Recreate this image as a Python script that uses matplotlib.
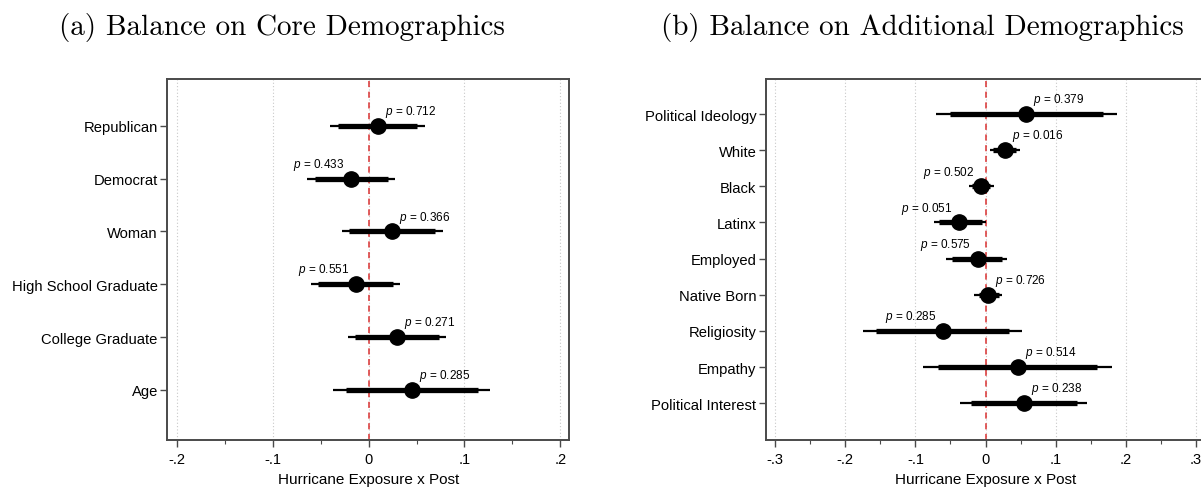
import matplotlib
matplotlib.use("Agg")
import matplotlib.pyplot as plt
from matplotlib.ticker import MultipleLocator

# panel (a): core demographics
core_labels = ["Republican", "Democrat", "Woman", "High School Graduate", "College Graduate", "Age"]
core_coef = [0.010, -0.018, 0.024, -0.013, 0.030, 0.045]
core_lo95 = [-0.040, -0.064, -0.028, -0.060, -0.022, -0.037]
core_hi95 = [0.059, 0.028, 0.078, 0.033, 0.081, 0.127]
core_lo90 = [-0.032, -0.056, -0.020, -0.053, -0.014, -0.024]
core_hi90 = [0.051, 0.020, 0.069, 0.025, 0.073, 0.114]
core_pvals = ["0.712", "0.433", "0.366", "0.551", "0.271", "0.285"]
core_ticks = [-0.2, -0.1, 0.0, 0.1, 0.2]
core_ticklabels = ["-.2", "-.1", "0", ".1", ".2"]

# panel (b): additional demographics
extra_labels = ["Political Ideology", "White", "Black", "Latinx", "Employed",
                "Native Born", "Religiosity", "Empathy", "Political Interest"]
extra_coef = [0.058, 0.028, -0.006, -0.038, -0.011, 0.004, -0.060, 0.046, 0.055]
extra_lo95 = [-0.071, 0.007, -0.023, -0.074, -0.056, -0.016, -0.174, -0.089, -0.036]
extra_hi95 = [0.187, 0.049, 0.012, 0.000, 0.031, 0.024, 0.052, 0.180, 0.145]
extra_lo90 = [-0.051, 0.011, -0.019, -0.067, -0.048, -0.010, -0.156, -0.068, -0.021]
extra_hi90 = [0.167, 0.043, 0.007, -0.005, 0.024, 0.019, 0.034, 0.159, 0.130]
extra_pvals = ["0.379", "0.016", "0.502", "0.051", "0.575", "0.726", "0.285", "0.514", "0.238"]
extra_ticks = [-0.3, -0.2, -0.1, 0.0, 0.1, 0.2, 0.3]
extra_ticklabels = ["-.3", "-.2", "-.1", "0", ".1", ".2", ".3"]

plt.rcParams["font.family"] = ["Liberation Sans", "DejaVu Sans"]
plt.rcParams["mathtext.fontset"] = "custom"
plt.rcParams["mathtext.it"] = "Liberation Sans:italic"
plt.rcParams["mathtext.rm"] = "Liberation Sans"

SPINE = "#4a4a4a"


def plot_balance(ax, labels, coef, lo95, hi95, lo90, hi90, pvals, ticks, ticklabels, xlim, ylim):
    n = len(labels)
    ys = [n - i for i in range(n)]

    for t in ticks:
        ax.axvline(t, color="#c8c8c8", lw=0.8, ls=(0, (1, 2)), zorder=0)
    ax.axvline(0, color="#d93030", lw=1.1, ls=(0, (4, 3)), zorder=1)

    ax.hlines(ys, lo95, hi95, color="black", lw=1.6, zorder=2)
    ax.hlines(ys, lo90, hi90, color="black", lw=3.8, zorder=3)
    ax.plot(coef, ys, "o", color="black", ms=11, zorder=4)

    for c, y, p in zip(coef, ys, pvals):
        right = c > 0
        ax.annotate(f"$p$ = {p}", xy=(c, y), xytext=(5 if right else -5, 8.5),
                    textcoords="offset points", ha="left" if right else "right",
                    va="baseline", fontsize=8.5)

    ax.set_xlim(*xlim)
    ax.set_ylim(*ylim)
    ax.set_xticks(ticks)
    ax.set_xticklabels(ticklabels)
    ax.xaxis.set_minor_locator(MultipleLocator(0.05))
    ax.set_yticks(ys)
    ax.set_yticklabels(labels)

    ax.tick_params(axis="x", which="major", length=5, width=1.0, color=SPINE, pad=4, labelsize=10.5)
    ax.tick_params(axis="x", which="minor", length=3, width=0.8, color=SPINE)
    ax.tick_params(axis="y", length=5, width=1.0, color=SPINE, pad=1.8, labelsize=10.6)
    ax.set_xlabel("Hurricane Exposure x Post", fontsize=11, labelpad=4)

    for s in ax.spines.values():
        s.set_color(SPINE)
        s.set_linewidth(1.4)


fig = plt.figure(figsize=(12.01, 4.89), dpi=100)
ax1 = fig.add_axes([0.1393, 0.0988, 0.3347, 0.7376])
ax2 = fig.add_axes([0.6376, 0.0988, 0.3663, 0.7376])

plot_balance(ax1, core_labels, core_coef, core_lo95, core_hi95, core_lo90, core_hi90,
             core_pvals, core_ticks, core_ticklabels, (-0.2101, 0.2094), (0.06, 6.883))
plot_balance(ax2, extra_labels, extra_coef, extra_lo95, extra_hi95, extra_lo90, extra_hi90,
             extra_pvals, extra_ticks, extra_ticklabels, (-0.3133, 0.3137), (-0.007, 9.968))

fig.text(282 / 1201, 1 - 35 / 489, "(a) Balance on Core Demographics",
         family="cmr10", fontsize=21, ha="center", va="baseline")
fig.text(922 / 1201, 1 - 35 / 489, "(b) Balance on Additional Demographics",
         family="cmr10", fontsize=21, ha="center", va="baseline")

fig.savefig("out.png", dpi=100)
